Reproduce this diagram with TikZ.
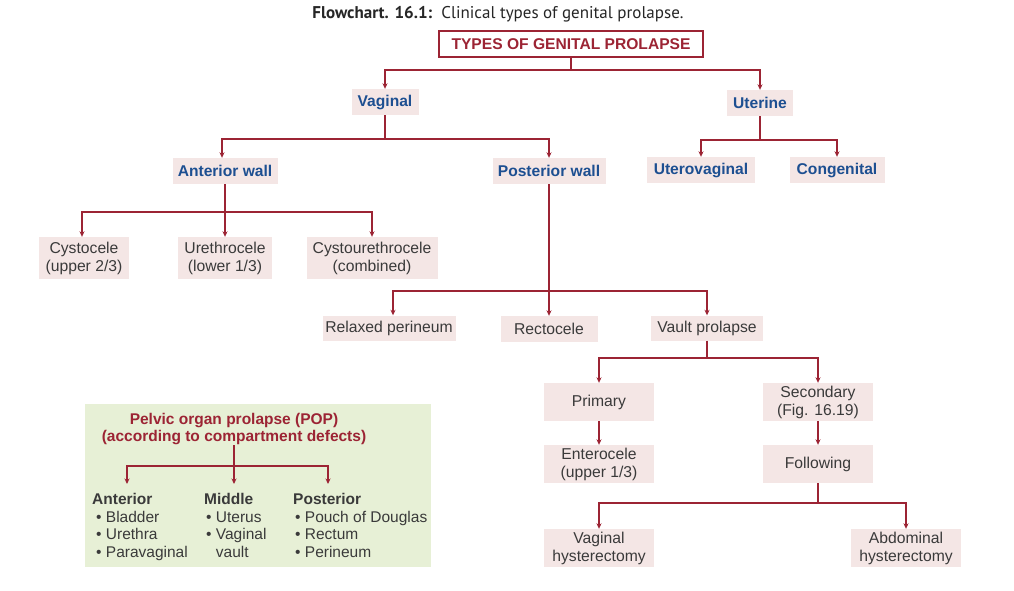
\documentclass[tikz,border=0pt]{standalone}
\usepackage{fontspec}
\setmainfont{Liberation Sans}
\newfontfamily\titlefont{PT Sans}
\usetikzlibrary{arrows.meta}
\definecolor{dred}{HTML}{9C2434}
\definecolor{dblue}{HTML}{1D4F91}
\definecolor{boxpink}{HTML}{F4E6E5}
\definecolor{boxgreen}{HTML}{E7F0D6}
\definecolor{txtgray}{HTML}{3A3A3A}
\begin{document}
\begin{tikzpicture}[x=1pt,y=-1pt,
  box/.style={fill=boxpink, inner sep=0pt, align=center, text=txtgray,
    font=\fontsize{15.7}{18}\selectfont},
  bbox/.style={box, text=dblue, font=\fontsize{15.6}{18}\selectfont\bfseries},
  arr/.style={draw=dred, line width=1.3pt, -{Stealth[length=5.5pt,width=5pt]}},
  ln/.style={draw=dred, line width=1.3pt},
  coltext/.style={anchor=north west, inner sep=0pt, align=left, text=txtgray,
    font=\fontsize{15.5}{17.7}\selectfont}]
\useasboundingbox (0,0) rectangle (1014,590);
\fill[white] (0,0) rectangle (1014,590);

% title
\node[inner sep=0pt, text=black!85, font=\fontsize{17}{20}\selectfont\titlefont] (title) at (498,14)
  {\textbf{Flowchart. 16.1:}\ \ Clinical types of genital prolapse.};

% main box
\node[draw=dred, line width=1.3pt, fill=white, minimum width=264pt, minimum height=26pt,
  inner sep=0pt, text=dred, font=\fontsize{15.6}{18}\selectfont\bfseries] (types) at (571,44)
  {TYPES OF GENITAL PROLAPSE};

\node[bbox, minimum width=67pt, minimum height=26pt] (vag) at (385,102) {Vaginal};
\node[bbox, minimum width=66pt, minimum height=26pt] (ute) at (760,103) {Uterine};
\node[bbox, minimum width=105pt, minimum height=26pt] (ant) at (225,171) {Anterior wall};
\node[bbox, minimum width=113pt, minimum height=26pt] (post) at (549,171) {Posterior wall};
\node[bbox, minimum width=108pt, minimum height=26pt] (uv) at (701,170) {Uterovaginal};
\node[bbox, minimum width=95pt, minimum height=26pt] (cong) at (837,170) {Congenital};

\node[box, minimum width=90pt, minimum height=42pt] (cys) at (84,258) {Cystocele\\(upper 2/3)};
\node[box, minimum width=94pt, minimum height=42pt] (ure) at (225,258) {Urethrocele\\(lower 1/3)};
\node[box, minimum width=131pt, minimum height=42pt] (cu) at (372,258) {Cystourethrocele\\(combined)};

\node[box, minimum width=133pt, minimum height=25pt] (rp) at (389,328) {Relaxed perineum};
\node[box, minimum width=97pt, minimum height=26pt] (rec) at (549,329) {Rectocele};
\node[box, minimum width=112pt, minimum height=25pt] (vp) at (707,328) {Vault prolapse};

\node[box, minimum width=110pt, minimum height=38pt] (prim) at (599,402) {Primary};
\node[box, minimum width=110pt, minimum height=38pt] (sec) at (818,402) {Secondary\\(Fig. 16.19)};
\node[box, minimum width=110pt, minimum height=38pt] (ent) at (599,464) {Enterocele\\(upper 1/3)};
\node[box, minimum width=110pt, minimum height=38pt] (fol) at (818,464) {Following};
\node[box, minimum width=110pt, minimum height=38pt] (vh) at (599,548) {Vaginal\\hysterectomy};
\node[box, minimum width=110pt, minimum height=38pt] (ah) at (906,548) {Abdominal\\hysterectomy};

% junctions
\coordinate (j1) at (571,70);
\coordinate (j2) at (385,139);
\coordinate (j3) at (760,140);
\coordinate (j4) at (225,212);
\coordinate (j5) at (549,291);
\coordinate (j6) at (707,358);
\coordinate (j7) at (818,503);

\draw[ln] (types.south) -- (j1);
\draw[arr] (j1) -| (vag.north);
\draw[arr] (j1) -| (ute.north);
\draw[ln] (vag.south) -- (j2);
\draw[arr] (j2) -| ([xshift=-3pt]ant.north);
\draw[arr] (j2) -| (post.north);
\draw[ln] (ute.south) -- (j3);
\draw[arr] (j3) -| (uv.north);
\draw[arr] (j3) -| (cong.north);
\draw[ln] (ant.south) -- (j4);
\draw[arr] (j4) -| ([xshift=-2pt]cys.north);
\draw[arr] (j4) -- (ure.north);
\draw[arr] (j4) -| (cu.north);
\draw[ln] (post.south) -- (j5);
\draw[arr] (j5) -| ([xshift=4pt]rp.north);
\draw[arr] (j5) -- (rec.north);
\draw[arr] (j5) -| (vp.north);
\draw[ln] (vp.south) -- (j6);
\draw[arr] (j6) -| (prim.north);
\draw[arr] (j6) -| (sec.north);
\draw[arr] (prim.south) -- (ent.north);
\draw[arr] (sec.south) -- (fol.north);
\draw[ln] (fol.south) -- (j7);
\draw[arr] (j7) -| (vh.north);
\draw[arr] (j7) -| (ah.north);

% POP box
\node[fill=boxgreen, minimum width=346pt, minimum height=163pt, inner sep=0pt] (pop) at (258,485.5) {};
\node[inner sep=0pt, align=center, text=dred, font=\fontsize{15.5}{17.5}\selectfont\bfseries] (poptitle) at (234,429)
  {Pelvic organ prolapse (POP)\\(according to compartment defects)};
\coordinate (j8) at (234,466);
\coordinate (ca) at (127,484);
\coordinate (cm) at (234,484);
\coordinate (cp) at (328,484);
\draw[ln] (poptitle.south) -- (j8);
\draw[arr] (j8) -| (ca);
\draw[arr] (j8) -- (cm);
\draw[arr] (j8) -| (cp);

\node[coltext] (colA) at (92,493) {\textbf{Anterior}\\\hspace*{4pt}\textbullet\ Bladder\\\hspace*{4pt}\textbullet\ Urethra\\\hspace*{4pt}\textbullet\ Paravaginal};
\node[coltext] (colM) at (204,493) {\textbf{Middle}\\\hspace*{2pt}\textbullet\ Uterus\\\hspace*{2pt}\textbullet\ Vaginal\\\hspace*{2pt}\phantom{\textbullet\ }vault};
\node[coltext] (colP) at (293,493) {\textbf{Posterior}\\\hspace*{2pt}\textbullet\ Pouch of Douglas\\\hspace*{2pt}\textbullet\ Rectum\\\hspace*{2pt}\textbullet\ Perineum};
\end{tikzpicture}
\end{document}
